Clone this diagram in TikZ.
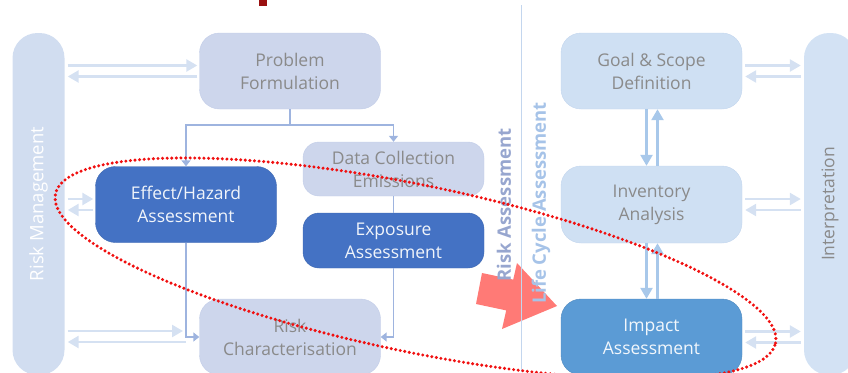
\documentclass[tikz,border=0pt]{standalone}
\usepackage{fontspec}
\setmainfont{Open Sans}
\usetikzlibrary{arrows.meta,calc,shapes}

\definecolor{lavfill}{HTML}{CDD6EC}
\definecolor{lavline}{HTML}{C2CDE8}
\definecolor{skyfill}{HTML}{CFE0F3}
\definecolor{skyline}{HTML}{C3D6EE}
\definecolor{darkblue}{HTML}{4472C4}
\definecolor{midblue}{HTML}{5B9BD5}
\definecolor{barfill}{HTML}{D1DDF0}
\definecolor{interfill}{HTML}{D3E2F4}
\definecolor{txtgray}{HTML}{8A8A8A}
\definecolor{pairline}{HTML}{D5E1F2}
\definecolor{stepline}{HTML}{A8C8EA}
\definecolor{treeline}{HTML}{9EB4DF}
\definecolor{ralabel}{HTML}{97A6CF}
\definecolor{lcalabel}{HTML}{A6C3E8}
\definecolor{ringred}{HTML}{F01010}
\definecolor{arrowred}{HTML}{FF7A76}
\definecolor{titlered}{HTML}{9A1010}

\begin{document}
\begin{tikzpicture}
[x=1pt,y=-1pt]
\tikzset{
	box/.style = {rounded corners=20pt, minimum width=181pt, minimum height=76pt, align=center, inner sep=2pt, font=\fontsize{17.5}{23}\selectfont},
	lavbox/.style = {box, fill=lavfill, draw=lavline, text=txtgray},
	skybox/.style = {box, fill=skyfill, draw=skyline, text=txtgray},
	darkbox/.style = {box, fill=darkblue, draw=darkblue!90!black, text=white!92!darkblue},
	bar/.style = {rounded corners=25pt, minimum width=342pt, minimum height=52pt, rotate=90},
	pair/.style = {draw=pairline, line width=2.5pt, -{Triangle[length=11pt,width=12pt]}},
	stepper/.style = {draw=stepline, line width=2.5pt, -{Triangle[length=11pt,width=12pt]}},
	tree/.style = {draw=treeline, line width=1.6pt},
	treearrow/.style = {tree, -{Triangle[length=6pt,width=9pt]}}
}
\useasboundingbox (0,0) rectangle (848,372);
\clip (0,0) rectangle (848,372);

% cut-off title
\fill[titlered] (259,0) rectangle (267,6);

% side bars
\node[bar, fill=barfill, text=white, font=\fontsize{18.5}{20}\selectfont] (rm) at (38.5,204) {Risk Management};
\node[bar, fill=interfill, text=txtgray, font=\fontsize{17.5}{20}\selectfont] (interp) at (830,204) {Interpretation};

% risk assessment side
\node[lavbox] (problem) at (290,71) {Problem\\Formulation};
\node[lavbox, minimum height=54pt, rounded corners=16pt] (datacoll) at (393.5,169) {Data Collection\\Emissions};
\node[darkbox] (effect) at (186,204.5) {Effect/Hazard\\Assessment};
\node[darkbox, minimum height=55pt, rounded corners=16pt] (exposure) at (393.5,240.5) {Exposure\\Assessment};
\node[lavbox] (riskchar) at (290,337) {Risk\\Characterisation};

% life cycle assessment side
\node[skybox] (goal) at (651.5,71) {Goal \& Scope\\Definition};
\node[skybox, minimum height=77pt] (inventory) at (651.5,204.5) {Inventory\\Analysis};
\node[box, fill=midblue, draw=midblue!90!black, text=white!92!midblue] (impact) at (651.5,337) {Impact\\Assessment};

% tree of the risk assessment
\draw[treearrow] (problem.south) -- ++(0,16) -| (effect.north);
\draw[treearrow] (problem.south) -- ++(0,16) -| (datacoll.north);
\draw[tree] (datacoll.south) -- (exposure.north);
\draw[treearrow] (effect.south) |- (riskchar.west);
\draw[treearrow] (exposure.south) |- (riskchar.east);

% risk management <-> boxes
\foreach \n in {problem,effect} {
	\draw[pair] ($(rm.south |- \n.west)+(3,-5.5)$) -- ($(\n.west)+(-2,-5.5)$);
	\draw[pair] ($(\n.west)+(-2,5.5)$) -- ($(rm.south |- \n.west)+(3,5.5)$);
}
\draw[pair] ($(rm.south |- riskchar.west)+(3,-6)$) -- ($(riskchar.west -| effect.south)+(-3,-6)$);
\draw[pair] ($(riskchar.west -| effect.south)+(0,5)$) -- ($(rm.south |- riskchar.west)+(3,5)$);

% boxes <-> interpretation
\foreach \n in {goal,inventory,impact} {
	\draw[pair] ($(\n.east)+(3,-5.5)$) -- ($(interp.north |- \n.east)+(-3,-5.5)$);
	\draw[pair] ($(interp.north |- \n.east)+(-3,5.5)$) -- ($(\n.east)+(3,5.5)$);
}

% steps of the life cycle assessment
\draw[stepper] ($(goal.south)+(-5,0)$) -- ($(inventory.north)+(-5,0)$);
\draw[stepper] ($(inventory.north)+(6,0)$) -- ($(goal.south)+(6,0)$);
\draw[stepper] ($(inventory.south)+(-5,0)$) -- ($(impact.north)+(-5,0)$);
\draw[stepper] ($(impact.north)+(6,0)$) -- ($(inventory.south)+(6,0)$);

% big arrow from one method to the other
\fill[arrowred] (482,273) -- (513.2,279.6) -- (517,263) -- (557,306) -- (502,329) -- (506.2,310.4) -- (476,304) -- cycle;

% divider and method names
\draw[skyline, line width=1pt] (521.7,5) -- (521.7,372);
\node[rotate=90, text=ralabel, font=\fontsize{18.5}{20}\selectfont\bfseries] (ralab) at (504,205) {Risk Assessment};
\node[rotate=90, text=lcalabel, font=\fontsize{18.5}{20}\selectfont\bfseries] (lcalab) at (541,203) {Life Cycle Assessment};

% dotted ring
\draw[ringred, line width=3.4pt, line cap=round, dash pattern=on 0pt off 4.6pt, rotate around={-11.7:(415.5,268.5)}] (415.5,268.5) ellipse [x radius=367.7pt, y radius=83.4pt];

\end{tikzpicture}
\end{document}
